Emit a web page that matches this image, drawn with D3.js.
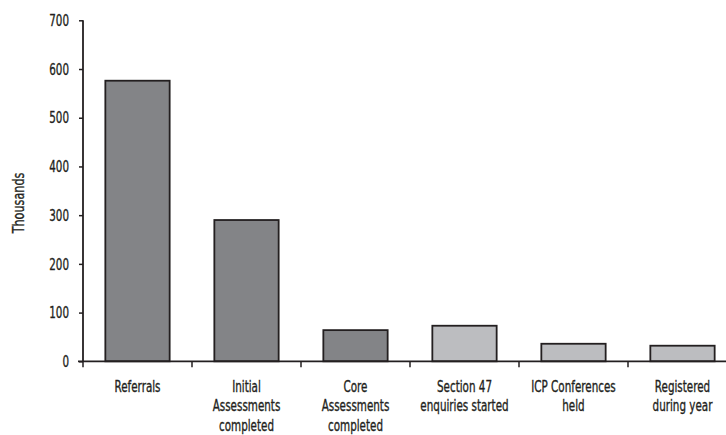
<!DOCTYPE html>
<html>
<head>
<meta charset="utf-8">
<script src="https://cdn.jsdelivr.net/npm/d3@7/dist/d3.min.js"></script>
<style>
  html, body { margin: 0; padding: 0; background: #fff; }
  svg { display: block; }
  text { font-family: "DejaVu Sans Condensed", "DejaVu Sans", sans-serif; fill: #231f20; stroke: #231f20; stroke-width: 0.35px; }
</style>
</head>
<body>
<svg id="chart" width="726" height="435"></svg>
<script>
const categories = [
  "Referrals",
  "Initial\nAssessments\ncompleted",
  "Core\nAssessments\ncompleted",
  "Section 47\nenquiries started",
  "ICP Conferences\nheld",
  "Registered\nduring year"
];
const values = [576, 290, 64, 73, 36, 32];
const groups = ["dark", "dark", "dark", "light", "light", "light"];
const yTicks = [0, 100, 200, 300, 400, 500, 600, 700];
const yLabel = "Thousands";

const colors = { dark: "#838487", light: "#bcbdc0" };
const ink = "#231f20";
const SX = 0.72;  // horizontal squeeze to imitate a condensed face
const FONT = 16;

const svg = d3.select("#chart");
const x0 = 83, x1 = 737, yBottom = 361.3, yTop = 20.3;

const x = d3.scaleBand()
  .domain(categories)
  .range([x0, x1])
  .paddingInner(0.41)
  .paddingOuter(0.205);

const y = d3.scaleLinear().domain([0, 700]).range([yBottom, yTop]);

// Bars
svg.append("g").selectAll("rect")
  .data(categories)
  .join("rect")
  .attr("x", d => x(d))
  .attr("y", (d, i) => y(values[i]))
  .attr("width", x.bandwidth())
  .attr("height", (d, i) => y(0) - y(values[i]))
  .attr("fill", (d, i) => colors[groups[i]])
  .attr("stroke", ink)
  .attr("stroke-width", 1.8);

// Y axis
const yAxis = svg.append("g")
  .attr("transform", `translate(${x0},0)`)
  .call(d3.axisLeft(y).tickValues(yTicks).tickSize(4).tickPadding(10).tickFormat(d3.format("d")));
yAxis.attr("font-family", null).attr("font-size", null);
yAxis.select(".domain").attr("stroke", ink).attr("stroke-width", 1.8)
  .attr("d", `M0,${yTop}V${yBottom}`);
yAxis.selectAll(".tick line").attr("stroke", ink).attr("stroke-width", 1.5);
yAxis.selectAll(".tick text")
  .attr("font-size", FONT)
  .attr("fill", ink)
  .attr("x", -14 / SX)
  .attr("transform", `scale(${SX},1)`);

// X axis line
svg.append("line")
  .attr("x1", 78).attr("x2", 726)
  .attr("y1", yBottom).attr("y2", yBottom)
  .attr("stroke", ink).attr("stroke-width", 1.8);

// X ticks at band boundaries
const boundaries = categories.map(d => x(d) - x.step() * 0.205).concat([x1]);
svg.append("g").selectAll("line")
  .data(boundaries)
  .join("line")
  .attr("x1", d => d).attr("x2", d => d)
  .attr("y1", yBottom).attr("y2", yBottom + 6)
  .attr("stroke", ink).attr("stroke-width", 1.5);

// X labels
const lbl = svg.append("g").selectAll("text")
  .data(categories)
  .join("text")
  .attr("text-anchor", "middle")
  .attr("font-size", FONT)
  .attr("transform", d => `translate(${x(d) + x.bandwidth() / 2},392) scale(${SX},1)`);
lbl.selectAll("tspan")
  .data(d => d.split("\n"))
  .join("tspan")
  .attr("x", 0)
  .attr("y", (d, i) => i * 19.5)
  .text(d => d);

// Y label
svg.append("text")
  .attr("transform", "translate(24,203) rotate(-90) scale(0.78,1)")
  .attr("text-anchor", "middle")
  .attr("font-size", FONT)
  .text(yLabel);
</script>
</body>
</html>
